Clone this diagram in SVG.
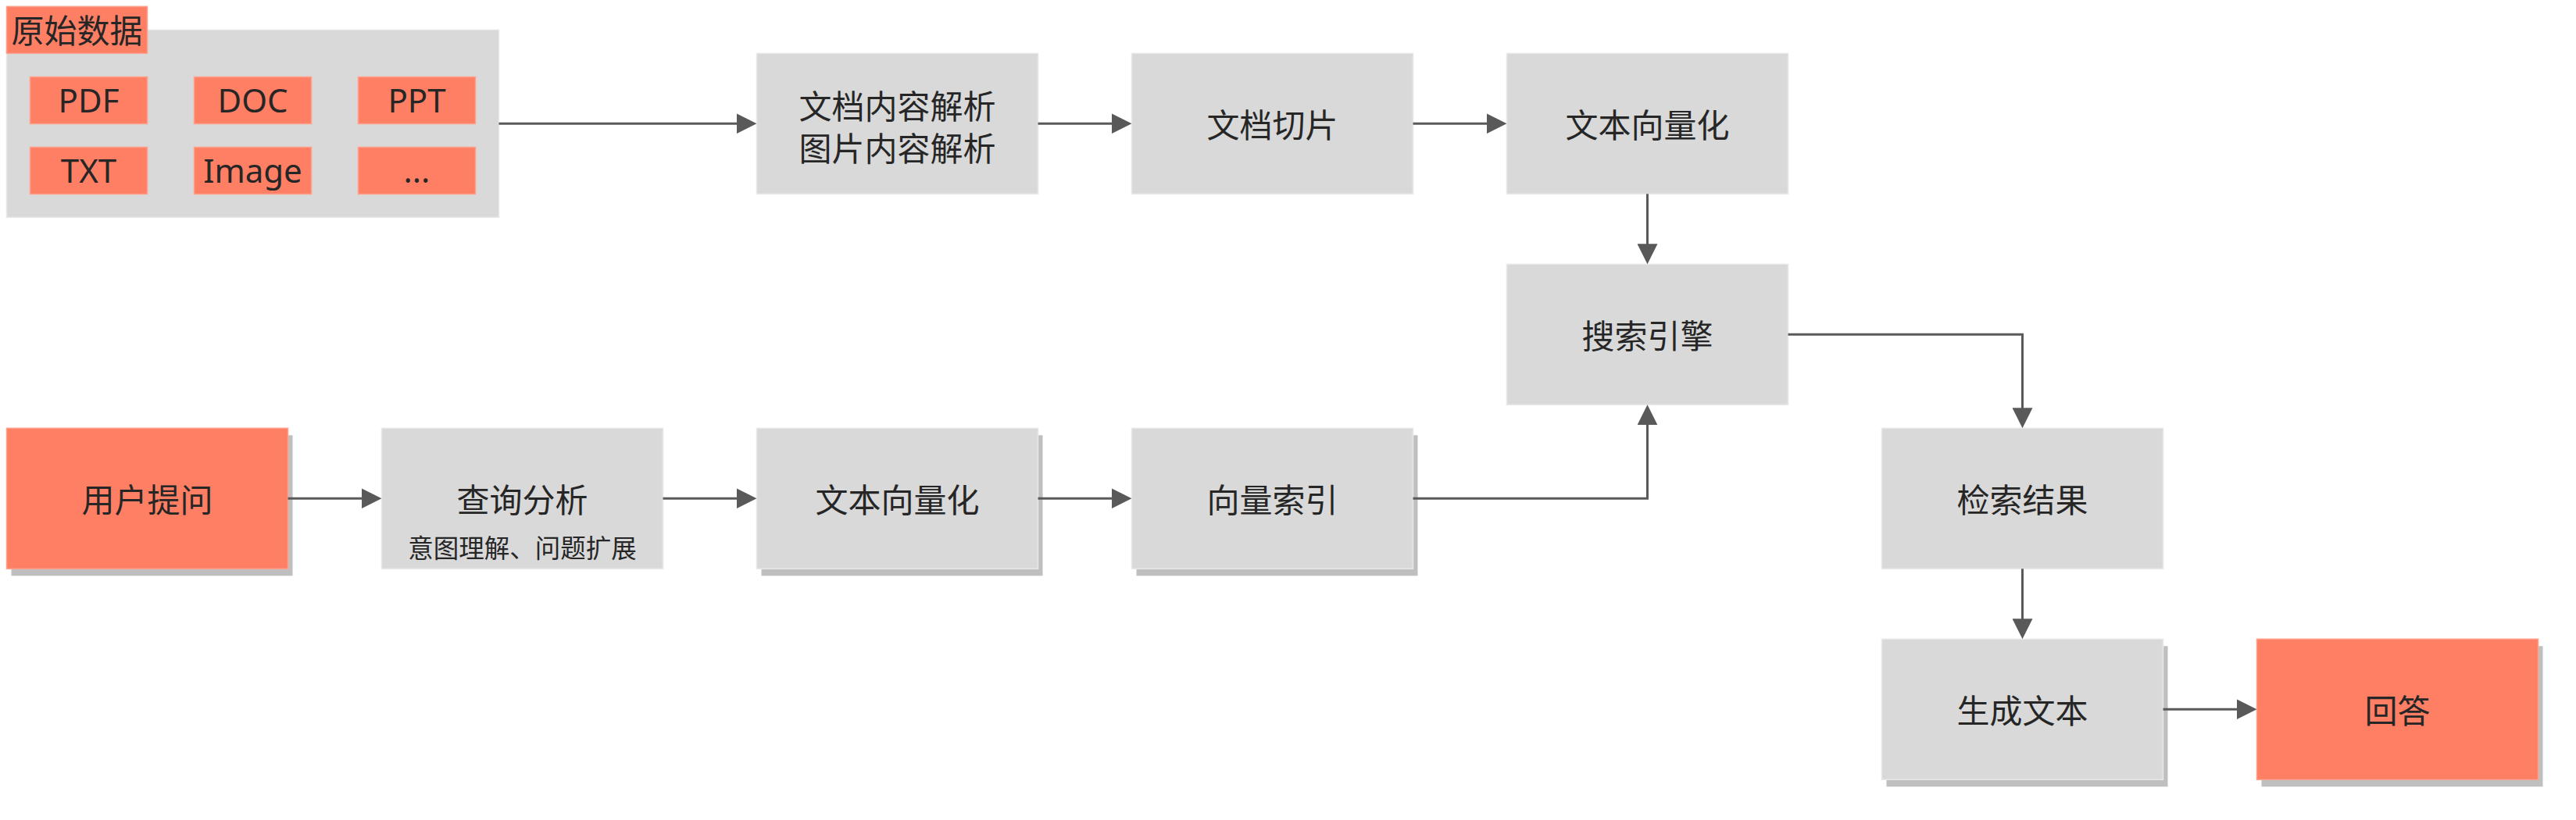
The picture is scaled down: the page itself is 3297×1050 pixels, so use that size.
<svg xmlns="http://www.w3.org/2000/svg" width="3297" height="1050" viewBox="0 0 3297 1050">
  <defs>
    <marker id="arrow" markerUnits="userSpaceOnUse" markerWidth="26" markerHeight="26" viewBox="0 0 26 26" refX="20" refY="13" orient="auto">
      <path d="M0,0 L26,13 L0,26 Z" fill="#595959"/>
    </marker>
  </defs>
  <style>
    .bg { fill: #ffffff; }
    .grey { fill: #D9D9D9; stroke: #E8E8E8; stroke-width: 1.5; }
    .coral { fill: #FF7F65; stroke: #FFA08C; stroke-width: 1.5; }
    .shadow { fill: #BFBFBF; }
    .t { font-family: "Noto Sans", "Noto Sans CJK SC", sans-serif; font-size: 42px; fill: #262626; text-anchor: middle; }
    .s { font-family: "Noto Sans", "Noto Sans CJK SC", sans-serif; font-size: 32.5px; fill: #262626; text-anchor: middle; }
    .edge { fill: none; stroke: #595959; stroke-width: 3; marker-end: url(#arrow); }
  </style>
  <rect class="bg" x="0" y="0" width="3297" height="1050"/>

  <g id="raw-data">
    <rect class="grey" x="8.5" y="38.3" width="630" height="240"/>
    <rect class="coral" x="8.5" y="8.3" width="180" height="60"/>
    <text class="t" x="98.5" y="55">原始数据</text>
    <g id="pdf"><rect class="coral" x="38.5" y="98.5" width="150" height="60"/><text class="t" x="113.5" y="143.5">PDF</text></g>
    <g id="doc"><rect class="coral" x="248.5" y="98.5" width="150" height="60"/><text class="t" x="323.5" y="143.5">DOC</text></g>
    <g id="ppt"><rect class="coral" x="458.5" y="98.5" width="150" height="60"/><text class="t" x="533.5" y="143.5">PPT</text></g>
    <g id="txt"><rect class="coral" x="38.5" y="188.5" width="150" height="60"/><text class="t" x="113.5" y="233.5">TXT</text></g>
    <g id="image"><rect class="coral" x="248.5" y="188.5" width="150" height="60"/><text class="t" x="323.5" y="233.5">Image</text></g>
    <g id="more"><rect class="coral" x="458.5" y="188.5" width="150" height="60"/><text class="t" x="533.5" y="233.5">...</text></g>
  </g>

  <g id="parse">
    <rect class="grey" x="968.5" y="68.3" width="360" height="180"/>
    <text class="t" x="1148.5" y="152">文档内容解析</text>
    <text class="t" x="1148.5" y="205.5">图片内容解析</text>
  </g>
  <g id="chunk">
    <rect class="grey" x="1448.5" y="68.3" width="360" height="180"/>
    <text class="t" x="1628.5" y="176">文档切片</text>
  </g>
  <g id="embed-doc">
    <rect class="grey" x="1928.5" y="68.3" width="360" height="180"/>
    <text class="t" x="2108.5" y="176">文本向量化</text>
  </g>
  <g id="search-engine">
    <rect class="grey" x="1928.5" y="338.3" width="360" height="180"/>
    <text class="t" x="2108.5" y="446">搜索引擎</text>
  </g>

  <g id="user-question">
    <rect class="shadow" x="14.5" y="557.3" width="360" height="180"/>
    <rect class="coral" x="8.5" y="548.3" width="360" height="180"/>
    <text class="t" x="188.5" y="656">用户提问</text>
  </g>
  <g id="query-analysis">
    <rect class="grey" x="488.5" y="548.3" width="360" height="180"/>
    <text class="t" x="668.5" y="656">查询分析</text>
    <text class="s" x="668.5" y="714">意图理解、问题扩展</text>
  </g>
  <g id="embed-query">
    <rect class="shadow" x="974.5" y="557.3" width="360" height="180"/>
    <rect class="grey" x="968.5" y="548.3" width="360" height="180"/>
    <text class="t" x="1148.5" y="656">文本向量化</text>
  </g>
  <g id="vector-index">
    <rect class="shadow" x="1454.5" y="557.3" width="360" height="180"/>
    <rect class="grey" x="1448.5" y="548.3" width="360" height="180"/>
    <text class="t" x="1628.5" y="656">向量索引</text>
  </g>
  <g id="results">
    <rect class="grey" x="2408.5" y="548.3" width="360" height="180"/>
    <text class="t" x="2588.5" y="656">检索结果</text>
  </g>
  <g id="generate">
    <rect class="shadow" x="2414.5" y="827.3" width="360" height="180"/>
    <rect class="grey" x="2408.5" y="818.3" width="360" height="180"/>
    <text class="t" x="2588.5" y="926">生成文本</text>
  </g>
  <g id="answer">
    <rect class="shadow" x="2894.5" y="827.3" width="360" height="180"/>
    <rect class="coral" x="2888.5" y="818.3" width="360" height="180"/>
    <text class="t" x="3068.5" y="926">回答</text>
  </g>

  <g id="connectors">
    <path class="edge" d="M638.5,158.3 H962.5"/>
    <path class="edge" d="M1328.5,158.3 H1442.5"/>
    <path class="edge" d="M1808.5,158.3 H1922.5"/>
    <path class="edge" d="M2108.5,248.3 V332.3"/>
    <path class="edge" d="M368.5,638.3 H482.5"/>
    <path class="edge" d="M848.5,638.3 H962.5"/>
    <path class="edge" d="M1328.5,638.3 H1442.5"/>
    <path class="edge" d="M1808.5,638.3 H2108.5 V524.3"/>
    <path class="edge" d="M2288.5,428.3 H2588.5 V542.3"/>
    <path class="edge" d="M2588.5,728.3 V812.3"/>
    <path class="edge" d="M2768.5,908.3 H2882.5"/>
  </g>
</svg>
